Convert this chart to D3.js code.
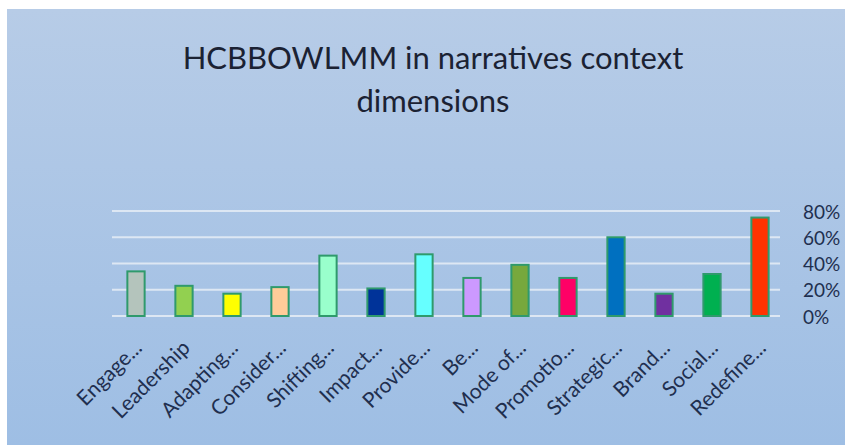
<!DOCTYPE html>
<html>
<head>
<meta charset="utf-8">
<script src="https://cdn.jsdelivr.net/npm/d3@7"></script>
<style>
  body { margin: 0; background: #ffffff; }
  svg { display: block; }
  text { font-family: Lato, "Open Sans", sans-serif; }
</style>
</head>
<body>
<div id="chart"></div>
<script>
// Chart data
var categories = ["Engage...", "Leadership", "Adapting...", "Consider...", "Shifting...",
                  "Impact...", "Provide...", "Be...", "Mode of...", "Promotio...",
                  "Strategic...", "Brand...", "Social...", "Redefine..."];
var values = [0.34, 0.23, 0.17, 0.22, 0.46, 0.21, 0.47, 0.29, 0.39, 0.29, 0.60, 0.17, 0.32, 0.75];
var barColors = ["#b4c4bc", "#92d050", "#ffff00", "#ffcc99", "#99ffcc", "#003399", "#66ffff",
                 "#cc99ff", "#77a83d", "#ff0066", "#0070c0", "#7030a0", "#00b050", "#ff3300"];
var yTicks = [0, 0.2, 0.4, 0.6, 0.8];
var titleLines = ["HCBBOWLMM in narratives context", "dimensions"];

var svgWidth = 845;
var svgHeight = 445;

var svg = d3.select("#chart")
            .append("svg")
            .attr("width", svgWidth)
            .attr("height", svgHeight);

// background panel with a soft gradient
var defs = svg.append("defs");
var grad = defs.append("linearGradient")
               .attr("id", "bg")
               .attr("x1", 0).attr("y1", 0)
               .attr("x2", 0).attr("y2", 1);
grad.append("stop").attr("offset", "0%").attr("stop-color", "#b7cce7");
grad.append("stop").attr("offset", "100%").attr("stop-color", "#9ebee4");

svg.append("rect")
   .attr("x", 7)
   .attr("y", 9)
   .attr("width", svgWidth - 7)
   .attr("height", svgHeight - 9)
   .attr("fill", "url(#bg)");

// Scales
var x = d3.scaleBand()
          .domain(categories)
          .range([112, 784])
          .paddingInner(0.64)
          .paddingOuter(0.32);

var y = d3.scaleLinear()
          .domain([0, 0.8])
          .range([316, 211]);

// Gridlines
svg.append("g")
   .selectAll("line")
   .data(yTicks)
   .enter()
   .append("line")
   .attr("x1", 112)
   .attr("x2", 780)
   .attr("y1", d => y(d))
   .attr("y2", d => y(d))
   .attr("stroke", "#dde7f3")
   .attr("stroke-width", 2);

// Right axis labels
var yAxis = d3.axisRight(y)
              .tickValues(yTicks)
              .tickFormat(d3.format(".0%"))
              .tickSize(0)
              .tickPadding(0);

var yAxisG = svg.append("g")
                .attr("transform", "translate(803, 1)")
                .call(yAxis);
yAxisG.select(".domain").remove();
yAxisG.selectAll("text")
      .attr("fill", "#1f2f4f")
      .attr("font-size", "19px")
      .attr("font-family", "Lato, sans-serif");

// Bars
svg.append("g")
   .selectAll("rect")
   .data(values)
   .enter()
   .append("rect")
   .attr("x", (d, i) => x(categories[i]))
   .attr("y", d => y(d))
   .attr("width", x.bandwidth())
   .attr("height", d => y(0) - y(d))
   .attr("fill", (d, i) => barColors[i])
   .attr("stroke", "#2f9a6c")
   .attr("stroke-width", 2);

// Category labels, rotated
svg.append("g")
   .selectAll("text")
   .data(categories)
   .enter()
   .append("text")
   .attr("transform", d => `translate(${x(d) + x.bandwidth() / 2 + 2}, 344) rotate(-45)`)
   .attr("text-anchor", "end")
   .attr("dy", "0.35em")
   .attr("fill", "#1f2f4f")
   .attr("font-size", "21px")
   .text(d => d);

// Title
svg.append("g")
   .selectAll("text")
   .data(titleLines)
   .enter()
   .append("text")
   .attr("x", 433)
   .attr("y", (d, i) => 69 + i * 43)
   .attr("text-anchor", "middle")
   .attr("fill", "#1b2233")
   .attr("font-size", "31px")
   .text(d => d);
</script>
</body>
</html>
